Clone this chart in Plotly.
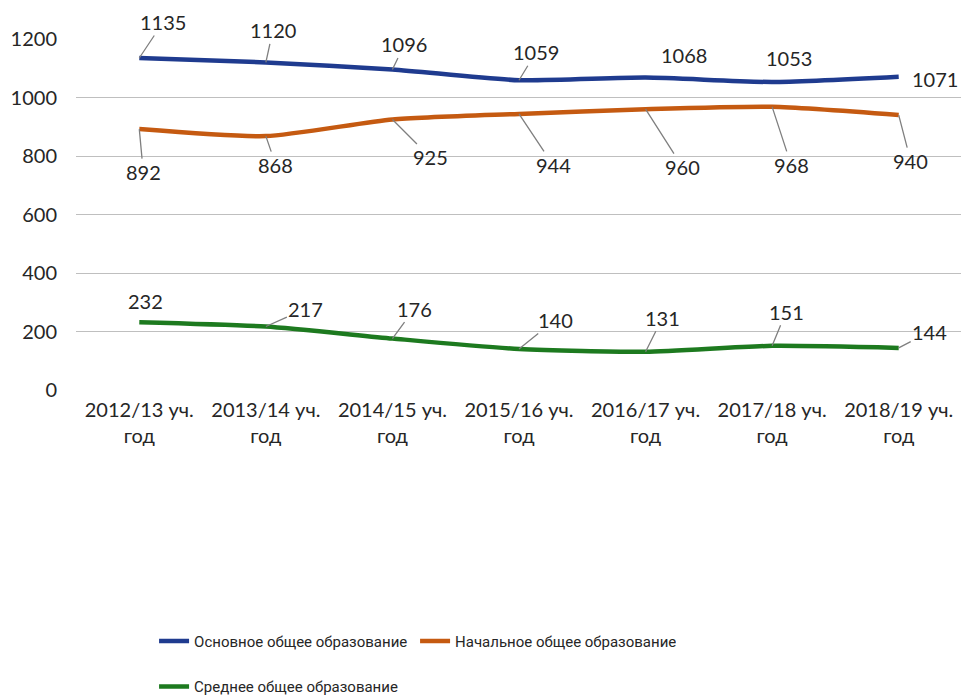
import plotly.graph_objects as go

categories = ["2012/13 уч.<br>год", "2013/14 уч.<br>год", "2014/15 уч.<br>год",
              "2015/16 уч.<br>год", "2016/17 уч.<br>год", "2017/18 уч.<br>год",
              "2018/19 уч.<br>год"]
osnovnoe = [1135, 1120, 1096, 1059, 1068, 1053, 1071]
nachalnoe = [892, 868, 925, 944, 960, 968, 940]
srednee = [232, 217, 176, 140, 131, 151, 144]
y_ticks = [0, 200, 400, 600, 800, 1000, 1200]

names = ["Основное общее образование", "Начальное общее образование", "Среднее общее образование"]
colors = ["#1f3b8f", "#c55a11", "#1d7a1f"]
series = [osnovnoe, nachalnoe, srednee]

# label offsets (pixels) and whether a leader line is drawn
offsets = [
    [(24, -36, True), (7, -32, True), (12, -25, True), (17, -28, True), (38, -23, False), (17, -24, False), (36, 2, False)],
    [(4, 43, True), (10, 29, True), (38, 38, True), (34, 51, True), (37, 58, True), (19, 58, True), (12, 46, True)],
    [(6, -21, False), (40, -18, True), (22, -30, True), (36, -29, True), (17, -34, True), (14, -34, True), (31, -16, True)],
]

FONT = "Lato, Noto Sans, sans-serif"
LEGEND_FONT = "Roboto, Lato, sans-serif"

fig = go.Figure()
for name, color, vals in zip(names, colors, series):
    fig.add_trace(go.Scatter(
        x=categories, y=vals, name=name, mode="lines",
        line=dict(color=color, width=4.5, shape="spline", smoothing=0.6),
        legend="legend2" if name.startswith("Среднее") else "legend",
    ))

annotations = []
for vals, offs in zip(series, offsets):
    for cat, v, (ax, ay, lead) in zip(categories, vals, offs):
        annotations.append(dict(
            x=cat, y=v, text=str(v), showarrow=True, ax=ax, ay=ay,
            arrowhead=0, arrowwidth=1.3,
            arrowcolor="#7f7f7f" if lead else "rgba(0,0,0,0)",
            font=dict(size=20, color="#262626"),
        ))

# page body adds an 8px margin, so the figure is drawn 8px smaller
fig.update_layout(
    width=961, height=689,
    margin=dict(l=68, r=7, t=31, b=307),
    paper_bgcolor="white", plot_bgcolor="white",
    font=dict(family=FONT, size=20, color="#262626"),
    showlegend=True,
    legend=dict(orientation="h", xref="container", yref="container",
                x=0.152, y=0.105, xanchor="left", yanchor="top",
                entrywidth=216, entrywidthmode="pixels",
                font=dict(size=15, family=LEGEND_FONT),
                itemwidth=30, bgcolor="rgba(0,0,0,0)"),
    legend2=dict(orientation="h", xref="container", yref="container",
                 x=0.152, y=0.039, xanchor="left", yanchor="top",
                 font=dict(size=15, family=LEGEND_FONT),
                 itemwidth=30, bgcolor="rgba(0,0,0,0)"),
    annotations=annotations,
)
fig.update_xaxes(range=[-0.5, 6.5], showgrid=False, showline=False, ticks="",
                 tickfont=dict(size=20), ticklabelstandoff=6, automargin=False)
fig.update_yaxes(range=[0, 1200], tickvals=y_ticks, showgrid=True, gridcolor="#bfbfbf",
                 gridwidth=1.3, zeroline=False, showline=False, ticks="",
                 ticklabelstandoff=18, tickfont=dict(size=20), automargin=False)

fig.write_html("out.html")
